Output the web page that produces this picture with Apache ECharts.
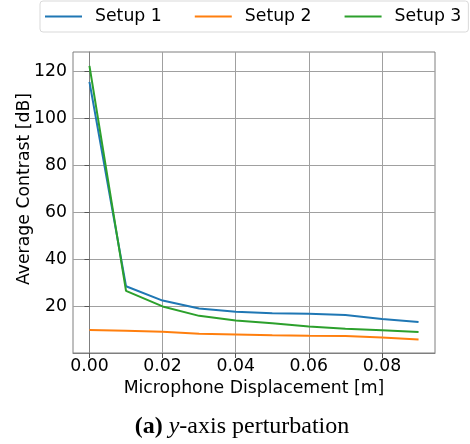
<!DOCTYPE html>
<html>
<head>
<meta charset="utf-8">
<script src="https://cdn.jsdelivr.net/npm/echarts@6/dist/echarts.min.js"></script>
<style>
  html, body { margin: 0; padding: 0; background: #fff; }
  #chart { width: 470px; height: 444px; }
</style>
</head>
<body>
<div id="chart"></div>
<script>
// displacement along y [m]
const displacement = [0.00, 0.01, 0.02, 0.03, 0.04, 0.05, 0.06, 0.07, 0.08, 0.09];
// average contrast [dB]
const setup1 = [115.5, 28.6, 22.5, 19.1, 17.7, 17.1, 16.9, 16.4, 14.7, 13.4];
const setup2 = [10.0, 9.7, 9.2, 8.4, 8.1, 7.7, 7.5, 7.4, 6.8, 5.9];
const setup3 = [122.3, 26.6, 20.0, 16.0, 14.0, 12.8, 11.5, 10.5, 9.9, 9.1];
const seriesNames = ['Setup 1', 'Setup 2', 'Setup 3'];
const xTicks = [0.00, 0.02, 0.04, 0.06, 0.08];
const yTicks = [20, 40, 60, 80, 100, 120];

const font = 'DejaVu Sans';
const fs = 17.3;
const colors = ['#1f77b4', '#ff7f0e', '#2ca02c'];

const pairs = (ys) => displacement.map((x, i) => [x, ys[i]]);

const chart = echarts.init(document.getElementById('chart'), null, { renderer: 'canvas' });

const axisCommon = {
  axisLine: { show: true, lineStyle: { color: '#7f7f7f', width: 1 } },
  axisTick: { show: true, inside: false, length: 5, lineStyle: { color: '#555', width: 1 } },
  splitLine: { show: true, lineStyle: { color: '#a0a0a0', width: 1 } },
  nameTextStyle: { fontFamily: font, fontSize: fs, color: '#000' }
};

chart.setOption({
  animation: false,
  color: colors,
  legend: {
    data: seriesNames,
    left: 40,
    top: 1,
    icon: 'rect',
    itemWidth: 37,
    itemHeight: 2,
    itemGap: 33,
    padding: [7, 7, 7, 5],
    borderColor: '#d9d9d9',
    borderWidth: 1,
    borderRadius: 3,
    textStyle: { fontFamily: font, fontSize: fs, color: '#000', padding: [0, 0, 0, 8] }
  },
  grid: {
    left: 73, top: 52, right: 35, bottom: 91, containLabel: false,
    show: true, borderColor: '#7f7f7f', borderWidth: 1
  },
  xAxis: Object.assign({}, axisCommon, {
    type: 'value',
    min: -0.0045,
    max: 0.0945,
    name: 'Microphone Displacement [m]',
    nameLocation: 'middle',
    nameGap: 21,
    axisTick: Object.assign({}, axisCommon.axisTick, { customValues: xTicks }),
    axisLabel: {
      customValues: xTicks,
      formatter: (v) => v.toFixed(2),
      fontFamily: font, fontSize: fs, color: '#000', margin: 5
    }
  }),
  yAxis: Object.assign({}, axisCommon, {
    type: 'value',
    min: 0.2,
    max: 128.2,
    axisTick: Object.assign({}, axisCommon.axisTick, { customValues: yTicks }),
    axisLabel: {
      customValues: yTicks,
      formatter: (v) => String(Math.round(v)),
      fontFamily: font, fontSize: fs, color: '#000', margin: 6
    }
  }),
  graphic: [
    {
      type: 'text',
      x: 25, y: 189,
      rotation: Math.PI / 2,
      style: {
        text: 'Average Contrast [dB]',
        fontFamily: font, fontSize: fs, fill: '#000',
        align: 'center', verticalAlign: 'middle'
      }
    },
    {
      type: 'text',
      x: 242, y: 427,
      style: {
        text: '{b|(a)} {i|y}{n|-axis perturbation}',
        align: 'center', verticalAlign: 'middle',
        rich: {
          b: { fontFamily: 'Liberation Serif', fontSize: 24, fontWeight: 'bold', fill: '#000' },
          i: { fontFamily: 'Liberation Serif', fontSize: 24, fontStyle: 'italic', fill: '#000' },
          n: { fontFamily: 'Liberation Serif', fontSize: 24, fill: '#000' }
        },
        fontFamily: 'Liberation Serif', fontSize: 24, fill: '#000'
      }
    }
  ],
  series: [
    { name: seriesNames[0], type: 'line', data: pairs(setup1), showSymbol: false, lineStyle: { width: 2 } },
    { name: seriesNames[1], type: 'line', data: pairs(setup2), showSymbol: false, lineStyle: { width: 2 } },
    { name: seriesNames[2], type: 'line', data: pairs(setup3), showSymbol: false, lineStyle: { width: 2 } }
  ]
});
</script>
</body>
</html>
